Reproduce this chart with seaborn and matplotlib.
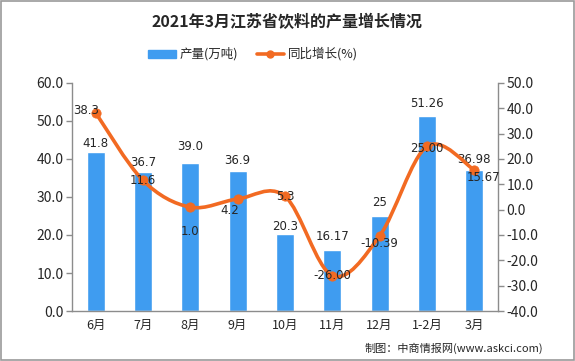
import numpy as np
import pandas as pd
import seaborn as sns
import matplotlib.pyplot as plt
from matplotlib.path import Path
from matplotlib.patches import PathPatch, Rectangle
from matplotlib.lines import Line2D
from matplotlib.ticker import FixedLocator

#%% 데이터
月份 = ['6月', '7月', '8月', '9月', '10月', '11月', '12月', '1-2月', '3月']
产量 = [41.8, 36.7, 39.0, 36.9, 20.3, 16.17, 25, 51.26, 36.98]
产量标签 = ['41.8', '36.7', '39.0', '36.9', '20.3', '16.17', '25', '51.26', '36.98']
同比增长 = [38.3, 11.6, 1.0, 4.2, 5.3, -26.00, -10.39, 25.00, 15.67]
增长标签 = ['38.3', '11.6', '1.0', '4.2', '5.3', '-26.00', '-10.39', '25.00', '15.67']

df = pd.DataFrame({'月份': 月份, '产量': 产量, '同比增长': 同比增长})

#%% 스타일
sns.set_style('white')
plt.rcParams['font.family'] = ['Noto Sans CJK SC', 'DejaVu Sans']
plt.rcParams['axes.unicode_minus'] = False

蓝 = '#3F9CF0'
橙 = '#F26A22'
灰 = '#8C8C8C'

fig = plt.figure(figsize=(5.75, 3.61), dpi=100)
fig.patches.append(Rectangle((0.002, 0.003), 0.996, 0.994, transform=fig.transFigure,
                             fill=False, edgecolor='#9A9A9A', lw=1.2))
ax = fig.add_axes([0.125, 0.1385, 0.741, 0.6316])

sns.barplot(data=df, x='月份', y='产量', color=蓝, width=0.38, saturation=1, ax=ax)
ax.set_xlim(-0.5, len(月份) - 0.5)
ax.set_ylim(0, 60)
ax.set_yticks(np.arange(0, 61, 10))
ax.set_yticklabels([f'{v:.1f}' for v in np.arange(0, 61, 10)], fontsize=10)
ax.set_xlabel('')
ax.set_ylabel('')
ax.tick_params(axis='x', length=0, labelsize=9, pad=6)
ax.xaxis.set_minor_locator(FixedLocator(np.arange(-0.5, len(月份), 1)))
ax.tick_params(axis='x', which='minor', length=5, color=灰, width=1)
ax.tick_params(axis='y', length=4, color=灰, width=1, pad=2)
for s in ['top', 'right']:
    ax.spines[s].set_visible(False)
for s in ['left', 'bottom']:
    ax.spines[s].set_color(灰)
    ax.spines[s].set_linewidth(1)

# 막대 라벨
柱偏移 = [9, 9, 16, 10, 7, 13, 13, 13, 11]
for i, (v, t) in enumerate(zip(产量, 产量标签)):
    ax.annotate(t, (i, v), xytext=(0, 柱偏移[i]), textcoords='offset pixels',
                ha='center', va='center', fontsize=8.5, family='DejaVu Sans')

#%% 오른쪽 축: 同比增长
ax2 = ax.twinx()
ax2.set_ylim(-40, 50)
ax2.set_yticks(np.arange(-40, 51, 10))
ax2.set_yticklabels([f'{v:.1f}' for v in np.arange(-40, 51, 10)], fontsize=10)
ax2.tick_params(axis='y', length=4, color=灰, width=1, pad=2)
for s in ['top', 'left', 'bottom']:
    ax2.spines[s].set_visible(False)
ax2.spines['right'].set_color(灰)
ax2.spines['right'].set_linewidth(1)

# 부드러운 곡선 (Catmull-Rom -> Bezier)
xs = np.arange(len(同比增长), dtype=float)
ys = np.array(同比增长, dtype=float)
pts = np.column_stack([xs, ys])
ext = np.vstack([pts[0], pts, pts[-1]])
verts = [tuple(pts[0])]
codes = [Path.MOVETO]
for i in range(len(pts) - 1):
    p0, p1, p2, p3 = ext[i], ext[i + 1], ext[i + 2], ext[i + 3]
    c1 = p1 + (p2 - p0) / 6
    c2 = p2 - (p3 - p1) / 6
    verts += [tuple(c1), tuple(c2), tuple(p2)]
    codes += [Path.CURVE4] * 3
ax2.add_patch(PathPatch(Path(verts, codes), fill=False, edgecolor=橙, lw=2.6, zorder=3))
sns.scatterplot(x=xs, y=ys, color=橙, s=45, edgecolor=橙, zorder=4, ax=ax2, legend=False)

线偏移 = [(-9, 2), (0, 0), (0, -24), (-8, -11), (0, 0), (0, 0), (0, -8), (0, -2), (9, -8)]
for i, (v, t) in enumerate(zip(同比增长, 增长标签)):
    ax2.annotate(t, (i, v), xytext=线偏移[i], textcoords='offset pixels',
                 ha='center', va='center', fontsize=8.5, family='DejaVu Sans', zorder=5)

#%% 제목, 범례, 출처
fig.text(0.5, 0.938, '2021年3月江苏省饮料的产量增长情况', ha='center', va='center',
         fontsize=11.5, fontweight='bold')
handles = [Rectangle((0, 0), 1, 1, color=蓝),
           Line2D([0], [0], color=橙, lw=2.6, marker='o', markersize=5)]
fig.legend(handles, ['产量(万吨)', '同比增长(%)'], loc='center', bbox_to_anchor=(0.44, 0.85),
           ncol=2, frameon=False, fontsize=9, handlelength=2.2, handleheight=0.6,
           columnspacing=1.5, handletextpad=0.3)
fig.text(0.945, 0.035, '制图：中商情报网(www.askci.com)', ha='right', va='center', fontsize=8)

fig.savefig('out.png', dpi=100)
